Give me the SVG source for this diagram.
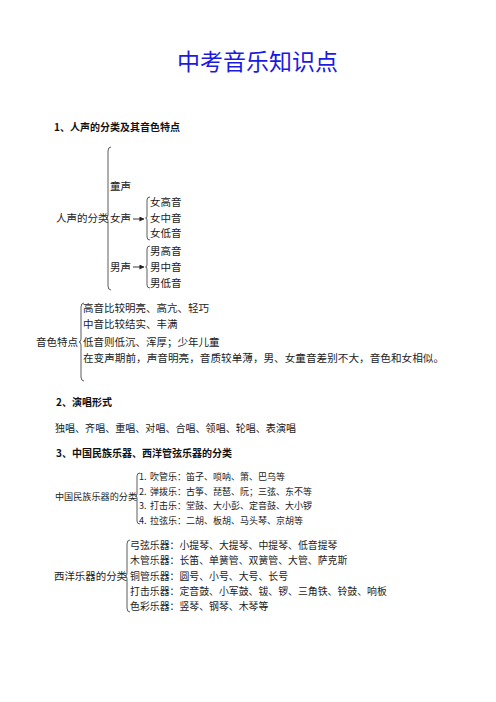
<svg xmlns="http://www.w3.org/2000/svg" width="496" height="702" viewBox="0 0 496 702">
<style>
text{font-family:"Noto Sans CJK SC","Noto Sans",sans-serif;fill:#222;}
.title{font-size:23px;fill:#1a1ae0;}
.h{font-size:10px;font-weight:bold;fill:#111;}
.t{font-size:10.5px;}
.s{font-size:9px;}
.m{font-size:9.9px;}
.br{fill:none;stroke:#333;stroke-width:0.8;}
.ar{stroke:#222;stroke-width:0.9;marker-end:url(#ah);}
</style>
<defs>
<marker id="ah" viewBox="0 0 6 6" refX="5.5" refY="3" markerWidth="5" markerHeight="5" orient="auto" markerUnits="userSpaceOnUse">
<path d="M0,0 L6,3 L0,6 z" fill="#222"/>
</marker>
</defs>
<rect width="496" height="702" fill="#fff"/>
<g id="title"><text class="title" x="177" y="70">中考音乐知识点</text></g>
<g id="heading1"><text class="h" x="54" y="131">1、人声的分类及其音色特点</text></g>

<g id="connectors">
<path class="br" d="M111,147 Q108,147 108,151 L108,215 Q108,218 106,218 Q108,218 108,221 L108,286 Q108,290 111,290"/>
<path class="br" d="M150,197 Q147,197 147,200 L147,216 Q147,218 145.5,218 Q147,218 147,220 L147,237 Q147,240 150,240"/>
<path class="br" d="M150,246 Q147,246 147,249 L147,265 Q147,267 145.5,267 Q147,267 147,269 L147,285 Q147,288 150,288"/>
<line class="ar" x1="133" y1="219" x2="144" y2="219"/>
<line class="ar" x1="133" y1="267" x2="144" y2="267"/>
<path class="br" d="M84,303 Q81,303 81,307 L81,339 Q81,342 79,342 Q81,342 81,345 L81,377 Q81,381 84,381"/>
<path class="br" d="M140,473 Q137,473 137,476 L137,494 Q137,496 135.5,496 Q137,496 137,498 L137,521 Q137,524 140,524"/>
<path class="br" d="M130,540 Q127,540 127,544 L127,573 Q127,576 125.5,576 Q127,576 127,579 L127,608 Q127,612 130,612"/>
</g>

<g id="voice-root"><text class="t" x="56" y="222">人声的分类</text></g>
<g id="child-voice"><text class="t" x="110" y="190">童声</text></g>
<g id="female-voice"><text class="t" x="110" y="222">女声</text></g>
<g id="female-parts">
<text class="t" x="150" y="206">女高音</text>
<text class="t" x="150" y="222">女中音</text>
<text class="t" x="150" y="237">女低音</text>
</g>
<g id="male-voice"><text class="t" x="110" y="271">男声</text></g>
<g id="male-parts">
<text class="t" x="150" y="255">男高音</text>
<text class="t" x="150" y="271">男中音</text>
<text class="t" x="150" y="287">男低音</text>
</g>

<g id="timbre-root"><text class="t" x="36" y="346">音色特点</text></g>
<g id="timbre-items">
<text class="t" x="83" y="312">高音比较明亮、高亢、轻巧</text>
<text class="t" x="83" y="328">中音比较结实、丰满</text>
<text class="t" x="83" y="346">低音则低沉、浑厚；少年儿童</text>
<text class="t" x="83" y="362" textLength="361" lengthAdjust="spacingAndGlyphs">在变声期前，声音明亮，音质较单薄，男、女童音差别不大，音色和女相似。</text>
</g>

<g id="heading2"><text class="h" x="56" y="406">2、演唱形式</text></g>
<g id="singing-forms"><text x="55" y="432" style="font-size:10.4px" textLength="241" lengthAdjust="spacingAndGlyphs">独唱、齐唱、重唱、对唱、合唱、领唱、轮唱、表演唱</text></g>
<g id="heading3"><text class="h" x="56" y="457">3、中国民族乐器、西洋管弦乐器的分类</text></g>

<g id="chinese-root"><text class="s" x="55" y="500" textLength="82" lengthAdjust="spacingAndGlyphs">中国民族乐器的分类</text></g>
<g id="chinese-items">
<text class="s" y="480"><tspan x="139">1.</tspan><tspan x="150">吹管乐：笛子、唢呐、箫、巴乌等</tspan></text>
<text class="s" y="495"><tspan x="139">2.</tspan><tspan x="150">弹拨乐：古筝、琵琶、阮；三弦、东不等</tspan></text>
<text class="s" y="509"><tspan x="139">3.</tspan><tspan x="150">打击乐：堂鼓、大小彭、定音鼓、大小锣</tspan></text>
<text class="s" y="524"><tspan x="139">4.</tspan><tspan x="150">拉弦乐：二胡、板胡、马头琴、京胡等</tspan></text>
</g>

<g id="western-root"><text class="m" x="54" y="580" textLength="73" lengthAdjust="spacingAndGlyphs">西洋乐器的分类</text></g>
<g id="western-items">
<text class="m" x="130" y="549">弓弦乐器：小提琴、大提琴、中提琴、低音提琴</text>
<text class="m" x="130" y="564">木管乐器：长笛、单簧管、双簧管、大管、萨克斯</text>
<text class="m" x="130" y="580">铜管乐器：圆号、小号、大号、长号</text>
<text class="m" x="130" y="595">打击乐器：定音鼓、小军鼓、钹、锣、三角铁、铃鼓、响板</text>
<text class="m" x="130" y="610">色彩乐器：竖琴、钢琴、木琴等</text>
</g>
</svg>
